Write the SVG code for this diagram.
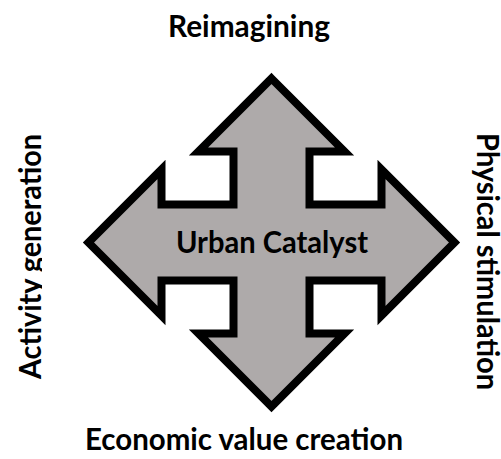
<svg xmlns="http://www.w3.org/2000/svg" width="501" height="459" viewBox="0 0 501 459">
  <defs>
    <style>
      .lbl { font-family: Lato, "Open Sans", "DejaVu Sans", sans-serif; font-weight: 700; font-size: 29.5px; fill: #000; }
      .arrow { fill: #aeaaaa; stroke: #000; stroke-width: 8; stroke-linejoin: miter; stroke-miterlimit: 10; }
    </style>
    <clipPath id="clipLeft">
      <rect x="0" y="0" width="42" height="459"/>
    </clipPath>
  </defs>
  <rect x="0" y="0" width="501" height="459" fill="#fff"/>
  <g id="catalyst">
    <path class="arrow" d="M271.5,78.5 L344.5,151.5 L309.5,151.5 L309.5,204.5 L381.5,204.5 L381.5,169.5 L454.5,242.5 L381.5,315.5 L381.5,280.5 L309.5,280.5 L309.5,333.5 L344.5,333.5 L271.5,406.5 L198.5,333.5 L233.5,333.5 L233.5,280.5 L161.5,280.5 L161.5,315.5 L88.5,242.5 L161.5,169.5 L161.5,204.5 L233.5,204.5 L233.5,151.5 L198.5,151.5 Z"/>
    <text class="lbl" x="176" y="253" textLength="192" lengthAdjust="spacingAndGlyphs">Urban Catalyst</text>
  </g>
  <g id="reimagining">
    <text class="lbl" x="168" y="37" textLength="162" lengthAdjust="spacingAndGlyphs">Reimagining</text>
  </g>
  <g id="economic">
    <text class="lbl" x="85" y="450" textLength="318" lengthAdjust="spacingAndGlyphs">Economic value creation</text>
  </g>
  <g id="activity" clip-path="url(#clipLeft)">
    <text class="lbl" transform="translate(41,379) rotate(-90)" x="0" y="0" textLength="245" lengthAdjust="spacingAndGlyphs">Activity generation</text>
  </g>
  <g id="physical">
    <text class="lbl" transform="translate(477,133) rotate(90)" x="0" y="0" textLength="257" lengthAdjust="spacingAndGlyphs">Physical stimulation</text>
  </g>
  <g id="connectors"/>
</svg>
